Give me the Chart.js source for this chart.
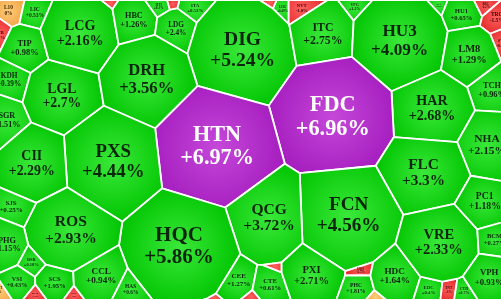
<!DOCTYPE html>
<html><head><meta charset="utf-8">
<script src="https://cdn.jsdelivr.net/npm/chart.js@4"></script>
<style>html,body{margin:0;padding:0;background:#fff;overflow:hidden}#wrap{width:501px;height:300px}</style>
</head><body><div id="wrap"><canvas id="c" width="501" height="300"></canvas></div>
<script>
// ---- data ----
const tickers = ["L10","LIC","TTB","TIP","KDH","SGR","LGL","LCG","HBC","PVX",
                 "HTI","LDG","ITA","DXV","DIG","LHG","DTL","VCR","NVT","ITC",
                 "VPG","HU3","TIX","HU1","BRC","TRC","SVT","LM8","TCH","HAR",
                 "FDC","HTN","DRH","PXS","CII","NHA","FLC","FCN","QCG","HQC",
                 "ROS","SJS","PHG","BSB","VSI","SCS","DLG","PET","CCL","HAS",
                 "CEE","TDG","HAG","KBC","CTE","PVD","PXI","HQS","PHC","SZL",
                 "HDC","EDC","TNT","CTD","VRE","PC1","BCM","VPH","CVT"];
const changes = [0,0.53,-1.2,0.98,0.39,1.51,2.7,2.16,1.26,-3.1,
                 0.3,2.4,0.53,-1.0,5.24,0.49,0,-2.4,-1.8,2.75,
                 1.2,4.09,0.8,0.65,-2.2,-1.5,-0.9,1.29,0.96,2.68,
                 6.96,6.97,3.56,4.44,2.29,2.15,3.3,4.56,3.72,5.86,
                 2.93,0.25,1.15,0.18,0.43,1.95,-1.4,-2.0,0.94,0.6,
                 1.27,0.5,-1.1,-0.7,0.61,-1.3,2.71,-2.5,1.81,0,
                 1.64,0.4,-3.0,0.7,2.33,1.18,0.27,0.93,0];

// ---- layout: seeds of the power (voronoi) treemap, in chart units ----
const seedX = [13,36,-3,28,12,-2,63,80,132,103,
               160,176,193,170,242,283,296,272,304,322,
               362,400,437,462,478,491,498,468,495,430,
               335,215,147,112,35,492,425,345,268,185,
               68,18,2,32,18,55,35,75,97,125,
               232,198,213,250,268,274,312,362,362,377,
               395,430,449,462,440,482,492,487,0];
const seedY = [9,14,32,47,80,122,94,33,24,4,
               4,30,7,1,50,8,3,3,8,36,
               5,40,5,15,7,22,40,52,88,110,
               115,148,80,160,165,145,172,217,220,247,
               230,205,246,262,283,282,297,297,280,294,
               276,294,298,298,283,268,268,270,286,299,
               277,288,290,292,243,205,240,276,295];
const seedR = [12,16,8,22,14,24,36,40,24,9,
               9,20,13,5,52,11,6,7,18,32,
               10,48,11,20,10,10,8,28,18,38,
               58,60,45,50,36,30,40,52,44,56,
               40,14,22,10,14,17,7,7,22,9,
               24,9,6,6,16,6,30,8,12,8,
               24,12,8,8,38,22,14,20,7];

const W = 501, H = 300, MX = 8, MY = 0;

function clip(poly, a, b, c) { // keep a*x+b*y <= c
  const out = [];
  for (let k = 0; k < poly.length; k++) {
    const p = poly[k], q = poly[(k + 1) % poly.length];
    const fp = a * p[0] + b * p[1] - c, fq = a * q[0] + b * q[1] - c;
    if (fp <= 0) out.push(p);
    if ((fp < 0 && fq > 0) || (fp > 0 && fq < 0)) {
      const t = fp / (fp - fq);
      out.push([p[0] + t * (q[0] - p[0]), p[1] + t * (q[1] - p[1])]);
    }
  }
  return out;
}
function powerCells() {
  const cells = [];
  for (let i = 0; i < seedX.length; i++) {
    let poly = [[-MX, -MY], [W + MX, -MY], [W + MX, H + MY], [-MX, H + MY]];
    const xi = seedX[i], yi = seedY[i], wi = seedR[i] * seedR[i];
    for (let j = 0; j < seedX.length && poly.length; j++) {
      if (j === i) continue;
      const xj = seedX[j], yj = seedY[j], wj = seedR[j] * seedR[j];
      const a = 2 * (xj - xi), b = 2 * (yj - yi);
      const c = (xj * xj + yj * yj) - (xi * xi + yi * yi) - wj + wi;
      poly = clip(poly, a, b, c);
    }
    cells.push(poly);
  }
  return cells;
}
function centroid(poly) {
  let A = 0, cx = 0, cy = 0;
  for (let k = 0; k < poly.length; k++) {
    const p = poly[k], q = poly[(k + 1) % poly.length];
    const cr = p[0] * q[1] - q[0] * p[1];
    A += cr; cx += (p[0] + q[0]) * cr; cy += (p[1] + q[1]) * cr;
  }
  A /= 2;
  if (Math.abs(A) < 1e-6) return { x: poly[0][0], y: poly[0][1], a: 0 };
  return { x: cx / (6 * A), y: cy / (6 * A), a: Math.abs(A) };
}
function colorsFor(v) {
  if (v >= 6.9) return ['#c548d9', '#a41cbe', '#ffffff'];
  if (v > 0) return ['#3ae83a', '#00c400', '#0a260a'];
  if (v === 0) return ['#ffcb78', '#eea040', '#3a2400'];
  return ['#ff6060', '#dd1e1e', '#3a0000'];
}
const treemapPlugin = {
  id: 'voronoiTreemap',
  beforeDatasetsDraw(chart) {
    const ctx = chart.ctx, xs = chart.scales.x, ys = chart.scales.y, ca = chart.chartArea;
    const cells = powerCells();
    ctx.save();
    ctx.beginPath(); ctx.rect(ca.left, ca.top, ca.right - ca.left, ca.bottom - ca.top); ctx.clip();
    const info = [];
    cells.forEach((poly, i) => {
      if (poly.length < 3) { info.push(null); return; }
      const c = centroid(poly);
      info.push(c);
      const px = poly.map(p => [xs.getPixelForValue(p[0]), ys.getPixelForValue(p[1])]);
      const cx = xs.getPixelForValue(c.x), cy = ys.getPixelForValue(c.y);
      let rr = 1; px.forEach(p => { rr = Math.max(rr, Math.hypot(p[0] - cx, p[1] - cy)); });
      const [c0, c1] = colorsFor(changes[i]);
      const g = ctx.createRadialGradient(cx, cy, 0, cx, cy, rr);
      g.addColorStop(0, c0); g.addColorStop(1, c1);
      ctx.beginPath();
      px.forEach((p, k) => k ? ctx.lineTo(p[0], p[1]) : ctx.moveTo(p[0], p[1]));
      ctx.closePath();
      ctx.fillStyle = g; ctx.fill();
      ctx.lineWidth = 1.8; ctx.strokeStyle = '#ffffff'; ctx.lineJoin = 'round'; ctx.stroke();
    });
    cells.forEach((poly, i) => {
      const c = info[i];
      if (!c) return;
      let fs = 0.21 * Math.sqrt(c.a);
      const xsPoly = poly.map(p => p[0]);
      const bw = Math.max(...xsPoly) - Math.min(...xsPoly);
      const pct = (changes[i] > 0 ? '+' : '') + changes[i] + '%';
      ctx.font = 'bold 10px "Liberation Serif", serif';
      const tw = Math.max(ctx.measureText(tickers[i]).width, ctx.measureText(pct).width) / 10;
      fs = Math.min(fs, 0.85 * bw / tw);
      if (fs < 2.5) return;
      const [, , tc] = colorsFor(changes[i]);
      const sx = xs.getPixelForValue(c.x), sy = ys.getPixelForValue(c.y);
      ctx.fillStyle = tc; ctx.textAlign = 'center'; ctx.textBaseline = 'middle';
      ctx.font = 'bold ' + fs.toFixed(1) + 'px "Liberation Serif", serif';
      ctx.fillText(tickers[i], sx, sy - 0.53 * fs);
      ctx.fillText(pct, sx, sy + 0.53 * fs);
    });
    ctx.restore();
  }
};
new Chart(document.getElementById('c'), {
  type: 'scatter',
  data: { datasets: [{ label: 'seeds', data: seedX.map((x, i) => ({ x, y: seedY[i] })), pointRadius: 0, pointHoverRadius: 0 }] },
  options: {
    responsive: false, animation: false, devicePixelRatio: 1,
    layout: { padding: 0 },
    plugins: { legend: { display: false }, tooltip: { enabled: false } },
    scales: {
      x: { type: 'linear', min: 0, max: W, display: false },
      y: { type: 'linear', min: 0, max: H, reverse: true, display: false }
    }
  },
  plugins: [treemapPlugin]
});
</script></body></html>
